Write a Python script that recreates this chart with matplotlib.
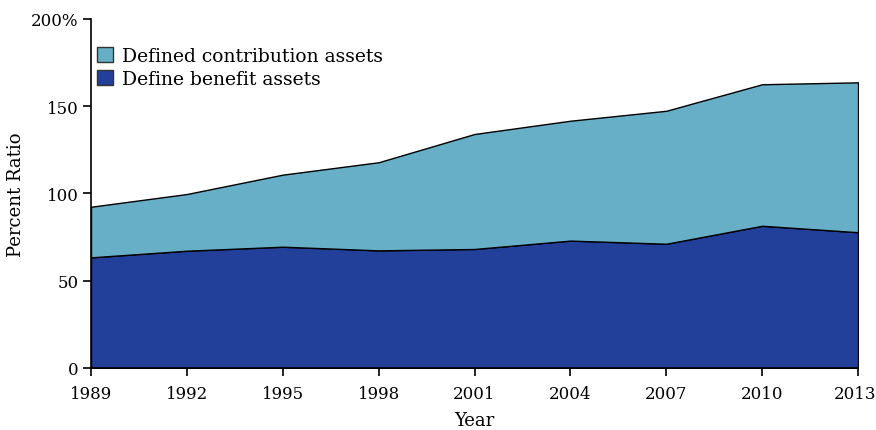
import matplotlib.pyplot as plt
import matplotlib.transforms as mtrans
from matplotlib.patches import Patch

plt.rcParams['font.family'] = ['DejaVu Serif']
plt.rcParams['font.size'] = 12

years = [1989, 1992, 1995, 1998, 2001, 2004, 2007, 2010, 2013]
# (percent)
benefit = [63.4, 67.2, 69.5, 67.4, 68.2, 73.0, 71.2, 81.5, 77.8]
total = [92.4, 99.7, 110.8, 117.9, 134.1, 141.7, 147.4, 162.6, 163.7]
contribution = [t - b for t, b in zip(total, benefit)]

c_db = '#22409a'
c_dc = '#67afc6'

fig = plt.figure(figsize=(8.76, 4.31), dpi=100)
ax = fig.add_axes([0.1039, 0.1439, 0.8756, 0.8097])

ax.stackplot(years, benefit, contribution, colors=[c_db, c_dc],
             edgecolor='black', linewidth=1)

ax.set_xlim(1989, 2013)
ax.set_ylim(0, 200)
ax.set_xticks(years)
ax.set_yticks([0, 50, 100, 150, 200])
ax.set_yticklabels(['0', '50', '100', '150', '200%'])
ax.tick_params(length=6, width=1.2, direction='out')
ax.tick_params(axis='x', pad=6)
ax.tick_params(axis='y', pad=3)
for s in ['top', 'right']:
    ax.spines[s].set_visible(False)
for s in ['left', 'bottom']:
    ax.spines[s].set_linewidth(1.2)

# keep the last year label inside the picture
last = ax.get_xticklabels()[-1]
last.set_transform(last.get_transform() +
                   mtrans.ScaledTranslation(-3 / 100, 0, fig.dpi_scale_trans))

ax.set_xlabel('Year', labelpad=7, fontsize=13)
ax.set_ylabel('Percent Ratio', labelpad=4, fontsize=13)

handles = [Patch(facecolor=c_dc, edgecolor='#333333', label='Defined contribution assets'),
           Patch(facecolor=c_db, edgecolor='#333333', label='Define benefit assets')]
ax.legend(handles=handles, loc='upper left', bbox_to_anchor=(0.008, 0.92),
          frameon=False, handlelength=0.85, handleheight=0.9,
          handletextpad=0.45, labelspacing=0.25, borderpad=0, borderaxespad=0,
          fontsize=13.5)

plt.savefig('out.png')
